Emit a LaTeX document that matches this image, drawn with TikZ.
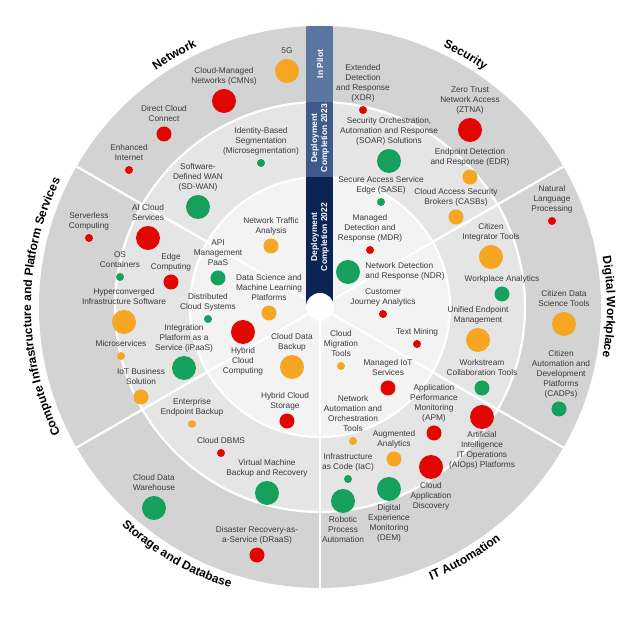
\documentclass[tikz,border=0pt]{standalone}
\usepackage{fontspec}
\setmainfont{Liberation Sans}
\usetikzlibrary{positioning,decorations.text}

\definecolor{dotred}{HTML}{E10600}
\definecolor{dotorange}{HTML}{F5A623}
\definecolor{dotgreen}{HTML}{16A05E}
\definecolor{ringout}{HTML}{D3D3D3}
\definecolor{ringmid}{HTML}{E5E5E5}
\definecolor{ringin}{HTML}{F3F3F3}
\definecolor{barpilot}{HTML}{5B77A1}
\definecolor{barmid}{HTML}{3D5A8A}
\definecolor{barin}{HTML}{0B2454}
\definecolor{txtgray}{HTML}{3A3A3A}

\newcommand{\segfont}{\bfseries\fontsize{12}{14}\selectfont}

\tikzset{
  bub/.style={circle, inner sep=0pt, minimum size=#1},
  bubs/.style={bub=8pt},
  bubm/.style={bub=15pt},
  bubl/.style={bub=24pt},
  lbl/.style={align=center, inner sep=1pt, text=txtgray,
    font=\fontsize{8.3}{10}\selectfont, execute at end node=\strut},
  bartxt/.style={rotate=90, align=center, text=white, inner sep=0pt,
    font=\bfseries\fontsize{8.5}{10}\selectfont},
  sep/.style={white, line width=2.2pt},
  seglabel/.style={decorate, decoration={text along path, text align=center, text color=black, text={|\segfont|#1}}}
}

\begin{document}
\begin{tikzpicture}[x=1pt, y=1pt]
\useasboundingbox (-320,-313) rectangle (320,307);

\fill[ringout] (0,0) circle (281pt);
\fill[ringmid] (0,0) circle (205pt);
\fill[ringin] (0,0) circle (130pt);
\draw[sep] (0,0) circle (205pt);
\draw[sep] (0,0) circle (130pt);
\foreach \a in {30,150,210,270,330}
  \draw[sep] (0,0) -- (\a:281pt);

\begin{scope}
  \clip (0,0) circle (281pt);
  \fill[barpilot] (-13.5,205) rectangle (13.5,290);
  \fill[barmid] (-13.5,130) rectangle (13.5,205);
  \fill[barin] (-13.5,0) rectangle (13.5,130);
\end{scope}
\node[circle, fill=white, minimum size=28pt, inner sep=0pt] (hub) at (0,0) {};

\node[bartxt] (pilot) at (0,243) {In Pilot};
\node[bartxt] (dep23) at (0,169) {Deployment\\Completion 2023};
\node[bartxt] (dep22) at (0,70) {Deployment\\Completion 2022};

% Network
\node[bubl, fill=dotorange] (fiveg) at (-33,236) {};
\node[lbl] (fiveg-t)[above=1pt of fiveg] {5G};
\node[bubl, fill=dotred] (cmn) at (-96,206) {};
\node[lbl] (cmn-t)[above=1pt of cmn] {Cloud-Managed\\Networks (CMNs)};
\node[bubm, fill=dotred] (dcc) at (-156,173) {};
\node[lbl] (dcc-t)[above=1pt of dcc] {Direct Cloud\\Connect};
\node[bubs, fill=dotred] (einet) at (-191,137) {};
\node[lbl] (einet-t)[above=1pt of einet] {Enhanced\\Internet};
\node[bubs, fill=dotgreen] (ibs) at (-59,144) {};
\node[lbl] (ibs-t)[above=1pt of ibs] {Identity-Based\\Segmentation\\(Microsegmentation)};
\node[bubl, fill=dotgreen] (sdwan) at (-122,100) {};
\node[lbl] (sdwan-t)[above=1pt of sdwan] {Software-\\Defined WAN\\(SD-WAN)};
\node[bubm, fill=dotorange] (nta) at (-49,61) {};
\node[lbl] (nta-t)[above=1pt of nta] {Network Traffic\\Analysis};

% Security
\node[bubs, fill=dotred] (xdr) at (43,197) {};
\node[lbl] (xdr-t)[above=1pt of xdr] {Extended\\Detection\\and Response\\(XDR)};
\node[bubl, fill=dotred] (ztna) at (150,177) {};
\node[lbl] (ztna-t)[above=1pt of ztna] {Zero Trust\\Network Access\\(ZTNA)};
\node[bubl, fill=dotgreen] (soar) at (69,146) {};
\node[lbl] (soar-t)[above=1pt of soar] {Security Orchestration,\\Automation and Response\\(SOAR) Solutions};
\node[bubm, fill=dotorange] (edr) at (150,130) {};
\node[lbl] (edr-t)[above=1pt of edr] {Endpoint Detection\\and Response (EDR)};
\node[bubs, fill=dotgreen] (sase) at (61,105) {};
\node[lbl] (sase-t)[above=1pt of sase] {Secure Access Service\\Edge (SASE)};
\node[bubm, fill=dotorange] (casb) at (136,90) {};
\node[lbl] (casb-t)[above=1pt of casb] {Cloud Access Security\\Brokers (CASBs)};
\node[bubs, fill=dotred] (mdr) at (50,57) {};
\node[lbl] (mdr-t)[above=1pt of mdr] {Managed\\Detection and\\Response (MDR)};
\node[bubl, fill=dotgreen] (ndr) at (28,35) {};
\node[lbl, align=left] (ndr-t)[right=4pt of ndr] {Network Detection\\and Response (NDR)};
\node[bubs, fill=dotred] (cja) at (63,-7) {};
\node[lbl] (cja-t)[above=1pt of cja] {Customer\\Journey Analytics};

% Digital Workplace
\node[bubs, fill=dotred] (nlp) at (232,86) {};
\node[lbl] (nlp-t)[above=1pt of nlp] {Natural\\Language\\Processing};
\node[bubl, fill=dotorange] (cit) at (171,50) {};
\node[lbl] (cit-t)[above=1pt of cit] {Citizen\\Integrator Tools};
\node[bubm, fill=dotgreen] (wpa) at (182,13) {};
\node[lbl] (wpa-t)[above=1pt of wpa] {Workplace Analytics};
\node[bubl, fill=dotorange] (uem) at (158,-33) {};
\node[lbl] (uem-t)[above=1pt of uem] {Unified Endpoint\\Management};
\node[bubm, fill=dotgreen] (wct) at (162,-81) {};
\node[lbl] (wct-t)[above=1pt of wct] {Workstream\\Collaboration Tools};
\node[bubl, fill=dotorange] (cdst) at (244,-17) {};
\node[lbl] (cdst-t)[above=1pt of cdst] {Citizen Data\\Science Tools};
\node[bubm, fill=dotgreen] (cadp) at (239,-102) {};
\node[lbl] (cadp-t)[above=1pt of cadp, xshift=2pt] {Citizen\\Automation and\\Development\\Platforms\\(CADPs)};
\node[bubs, fill=dotred] (tmin) at (97,-37) {};
\node[lbl] (tmin-t)[above=1pt of tmin] {Text Mining};

% IT Automation
\node[bubs, fill=dotorange] (cmt) at (21,-59) {};
\node[lbl] (cmt-t)[above=1pt of cmt] {Cloud\\Migration\\Tools};
\node[bubm, fill=dotred] (miot) at (68,-81) {};
\node[lbl] (miot-t)[above=1pt of miot] {Managed IoT\\Services};
\node[bubm, fill=dotred] (apm) at (114,-126) {};
\node[lbl] (apm-t)[above=1pt of apm] {Application\\Performance\\Monitoring\\(APM)};
\node[bubl, fill=dotred] (aiops) at (162,-110) {};
\node[lbl] (aiops-t)[below=1.5pt of aiops] {Artificial\\Intelligence\\IT Operations\\(AIOps) Platforms};
\node[bubs, fill=dotorange] (naot) at (33,-134) {};
\node[lbl] (naot-t)[above=1pt of naot] {Network\\Automation and\\Orchestration\\Tools};
\node[bubm, fill=dotorange] (augan) at (74,-152) {};
\node[lbl] (augan-t)[above=1pt of augan] {Augmented\\Analytics};
\node[bubs, fill=dotgreen] (iac) at (28,-172) {};
\node[lbl] (iac-t)[above=1pt of iac] {Infrastructure\\as Code (IaC)};
\node[bubl, fill=dotred] (cad) at (111,-160) {};
\node[lbl] (cad-t)[below=2.5pt of cad] {Cloud\\Application\\Discovery};
\node[bubl, fill=dotgreen] (rpa) at (23,-194) {};
\node[lbl] (rpa-t)[below=2.5pt of rpa] {Robotic\\Process\\Automation};
\node[bubl, fill=dotgreen] (dem) at (69,-182) {};
\node[lbl] (dem-t)[below=2.5pt of dem] {Digital\\Experience\\Monitoring\\(DEM)};

% Compute Infrastructure and Platform Services
\node[bubs, fill=dotred] (srvl) at (-231,69) {};
\node[lbl] (srvl-t)[above=1pt of srvl] {Serverless\\Computing};
\node[bubl, fill=dotred] (aics) at (-172,69) {};
\node[lbl] (aics-t)[above=1pt of aics] {AI Cloud\\Services};
\node[bubs, fill=dotgreen] (osc) at (-200,30) {};
\node[lbl] (osc-t)[above=1pt of osc] {OS\\Containers};
\node[bubm, fill=dotred] (edge) at (-149,25) {};
\node[lbl] (edge-t)[above=1pt of edge] {Edge\\Computing};
\node[bubm, fill=dotgreen] (apim) at (-102,29) {};
\node[lbl] (apim-t)[above=1pt of apim] {API\\Management\\PaaS};
\node[bubm, fill=dotorange] (dsml) at (-51,-6) {};
\node[lbl] (dsml-t)[above=1pt of dsml] {Data Science and\\Machine Learning\\Platforms};
\node[bubl, fill=dotorange] (hcis) at (-196,-15) {};
\node[lbl] (hcis-t)[above=1pt of hcis] {Hyperconverged\\Infrastructure Software};
\node[bubs, fill=dotgreen] (dcs) at (-112,-12) {};
\node[lbl] (dcs-t)[above=1pt of dcs] {Distributed\\Cloud Systems};
\node[bubl, fill=dotred] (hcc) at (-77,-25) {};
\node[lbl] (hcc-t)[below=2.5pt of hcc] {Hybrid\\Cloud\\Computing};
\node[bubs, fill=dotorange] (msvc) at (-199,-49) {};
\node[lbl] (msvc-t)[above=1pt of msvc] {Microservices};
\node[bubl, fill=dotgreen] (ipaas) at (-136,-61) {};
\node[lbl] (ipaas-t)[above=1pt of ipaas] {Integration\\Platform as a\\Service (iPaaS)};
\node[bubm, fill=dotorange] (iotbs) at (-179,-90) {};
\node[lbl] (iotbs-t)[above=1pt of iotbs] {IoT Business\\Solution};

% Storage and Database
\node[bubl, fill=dotorange] (cdb) at (-28,-60) {};
\node[lbl] (cdb-t)[above=1pt of cdb] {Cloud Data\\Backup};
\node[bubm, fill=dotred] (hcs) at (-33,-114) {};
\node[lbl] (hcs-t)[above=1pt of hcs, xshift=-2pt] {Hybrid Cloud\\Storage};
\node[bubs, fill=dotorange] (eeb) at (-128,-117) {};
\node[lbl] (eeb-t)[above=1pt of eeb] {Enterprise\\Endpoint Backup};
\node[bubs, fill=dotred] (cdbms) at (-99,-146) {};
\node[lbl] (cdbms-t)[above=1pt of cdbms] {Cloud DBMS};
\node[bubl, fill=dotgreen] (vmbr) at (-53,-186) {};
\node[lbl] (vmbr-t)[above=1pt of vmbr] {Virtual Machine\\Backup and Recovery};
\node[bubl, fill=dotgreen] (cdw) at (-166,-201) {};
\node[lbl] (cdw-t)[above=1pt of cdw] {Cloud Data\\Warehouse};
\node[bubm, fill=dotred] (draas) at (-63,-248) {};
\node[lbl] (draas-t)[above=1pt of draas] {Disaster Recovery-as-\\a-Service (DRaaS)};

\path[seglabel=Network] (150:288pt) arc[start angle=150, end angle=90, radius=288pt];
\path[seglabel=Security] (90:288pt) arc[start angle=90, end angle=30, radius=288pt];
\path[seglabel=Digital Workplace] (30:287pt) arc[start angle=30, end angle=-30, radius=287pt];
\path[seglabel=IT Automation] (270:295pt) arc[start angle=270, end angle=330, radius=295pt];
\path[seglabel=Storage and Database] (210:295pt) arc[start angle=210, end angle=270, radius=295pt];
\path[seglabel=Compute Infrastructure and Platform Services] (210:289pt) arc[start angle=210, end angle=150, radius=289pt];
\end{tikzpicture}
\end{document}
